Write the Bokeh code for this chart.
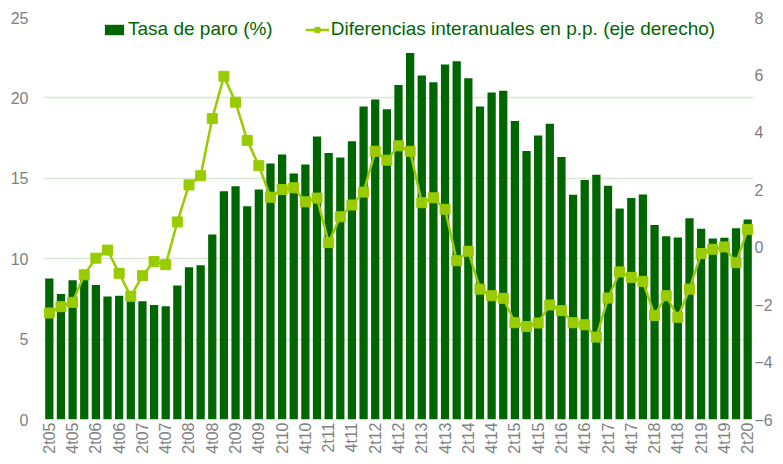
from bokeh.plotting import figure
from bokeh.models import Range1d, LinearAxis, FixedTicker, Legend, LegendItem, ColumnDataSource
from bokeh.embed import file_html
from bokeh.resources import INLINE

quarters = [
    "2t05", "3t05", "4t05", "1t06", "2t06", "3t06", "4t06", "1t07", "2t07", "3t07", "4t07",
    "1t08", "2t08", "3t08", "4t08", "1t09", "2t09", "3t09", "4t09", "1t10", "2t10", "3t10", "4t10",
    "1t11", "2t11", "3t11", "4t11", "1t12", "2t12", "3t12", "4t12", "1t13", "2t13", "3t13", "4t13",
    "1t14", "2t14", "3t14", "4t14", "1t15", "2t15", "3t15", "4t15", "1t16", "2t16", "3t16", "4t16",
    "1t17", "2t17", "3t17", "4t17", "1t18", "2t18", "3t18", "4t18", "1t19", "2t19", "3t19", "4t19",
    "1t20", "2t20",
]

tasa_paro = [
    8.77, 7.8, 8.66, 8.9, 8.37, 7.65, 7.7, 7.5, 7.35, 7.12,
    7.05, 8.33, 9.47, 9.59, 11.5, 14.2, 14.5, 13.26, 14.3, 15.92,
    16.48, 15.3, 15.86, 17.6, 16.58, 16.3, 17.3, 19.47, 19.9, 19.29,
    20.8, 22.8, 21.4, 20.98, 22.07, 22.28, 21.22, 19.47, 20.34, 20.44,
    18.56, 16.69, 17.66, 18.4, 16.32, 13.98, 14.9, 15.22, 14.54, 13.12,
    13.78, 14.0, 12.09, 11.4, 11.32, 12.52, 11.86, 11.26, 11.3, 11.9, 12.44,
]

diferencias = [
    -2.29, -2.07, -1.92, -0.96, -0.38, -0.10, -0.91, -1.71, -0.99, -0.50,
    -0.61, 0.88, 2.17, 2.49, 4.48, 5.95, 5.05, 3.72, 2.84, 1.74,
    2.01, 2.07, 1.58, 1.71, 0.16, 1.06, 1.47, 1.92, 3.34, 3.03,
    3.53, 3.34, 1.55, 1.72, 1.32, -0.47, -0.14, -1.46, -1.69, -1.78,
    -2.63, -2.76, -2.64, -2.01, -2.21, -2.63, -2.70, -3.13, -1.77, -0.86,
    -1.05, -1.19, -2.38, -1.69, -2.44, -1.46, -0.22, -0.07, 0.01, -0.54, 0.62,
]

left_ticks = [0, 5, 10, 15, 20, 25]
right_ticks = [-6, -4, -2, 0, 2, 4, 6, 8]

BAR = "#006600"
LINE = "#99cc00"
GRAY = "#808080"
FONT = "Liberation Sans"

x = list(range(len(quarters)))
src = ColumnDataSource(dict(x=x, q=quarters, tasa=tasa_paro, dif=diferencias))

p = figure(width=775, height=456, output_backend="svg", toolbar_location=None,
           x_range=Range1d(-0.5, len(quarters) - 0.5), y_range=Range1d(0, 25),
           min_border_left=43, min_border_right=16, min_border_top=17, min_border_bottom=35)
p.outline_line_color = None
p.background_fill_color = "white"
p.border_fill_color = "white"
p.extra_y_ranges = {"dif": Range1d(-6, 8)}

bars = p.vbar(x="x", top="tasa", bottom=0, width=0.71, source=src,
              fill_color=BAR, line_color=None)
ln = p.line(x="x", y="dif", source=src, y_range_name="dif", line_color=LINE, line_width=2.5)
mk = p.scatter(x="x", y="dif", source=src, y_range_name="dif", marker="square", size=10,
               fill_color=LINE, line_color=LINE)


def style_axis(ax, standoff):
    ax.axis_line_color = None
    ax.major_tick_line_color = None
    ax.minor_tick_line_color = None
    ax.major_tick_out = 0
    ax.major_tick_in = 0
    ax.minor_tick_out = 0
    ax.minor_tick_in = 0
    ax.axis_label_standoff = 0
    ax.major_label_standoff = standoff
    ax.major_label_text_font = FONT
    ax.major_label_text_font_size = "16px"
    ax.major_label_text_color = GRAY


xa = p.xaxis[0]
xa.ticker = FixedTicker(ticks=x[::2])
xa.major_label_overrides = {i: quarters[i] for i in x[::2]}
xa.major_label_orientation = 1.5708
style_axis(xa, 3)

ya = p.yaxis[0]
ya.ticker = FixedTicker(ticks=left_ticks)
style_axis(ya, 15)

ra = LinearAxis(y_range_name="dif", ticker=FixedTicker(ticks=right_ticks))
style_axis(ra, 1)
p.add_layout(ra, "right")

p.xgrid.grid_line_color = None
p.ygrid.grid_line_color = "#dbe9d4"
p.ygrid.grid_line_width = 1.5
p.ygrid.ticker = FixedTicker(ticks=left_ticks)

legend = Legend(items=[
    LegendItem(label="Tasa de paro (%)", renderers=[bars]),
    LegendItem(label="Diferencias interanuales en p.p. (eje derecho)", renderers=[ln, mk]),
], orientation="horizontal", location=(59, 379))
legend.background_fill_alpha = 0
legend.border_line_color = None
legend.padding = 0
legend.margin = 0
legend.spacing = 32
legend.glyph_width = 24
legend.glyph_height = 13
legend.label_standoff = 2
legend.label_height = 20
legend.label_text_font = FONT
legend.label_text_font_size = "19px"
legend.label_text_color = BAR
p.add_layout(legend, "center")

open("out.html", "w").write(file_html(p, INLINE))
